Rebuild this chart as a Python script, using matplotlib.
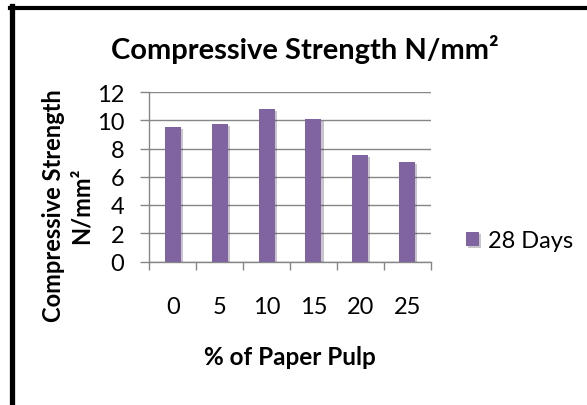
import matplotlib
matplotlib.use("Agg")
import matplotlib.pyplot as plt
import matplotlib.patheffects as pe
from matplotlib.lines import Line2D
import numpy as np

# data
paper_pulp = ["0", "5", "10", "15", "20", "25"]
strength_28 = [9.55, 9.75, 10.8, 10.1, 7.55, 7.05]
series_name = "28 Days"
y_ticks = [0, 2, 4, 6, 8, 10, 12]

plt.rcParams['font.family'] = ['Lato', 'DejaVu Sans']

W, H = 587, 406
fig = plt.figure(figsize=(W / 100, H / 100), dpi=100)
ax = fig.add_axes([149.3 / W, 1 - 262.5 / H, 281.4 / W, 169.5 / H])

grey = '#868686'
x = np.arange(len(paper_pulp)) + 0.5
ax.bar(x, strength_28, width=0.34, color='#8064A2', label=series_name, zorder=3,
       path_effects=[pe.SimplePatchShadow(offset=(1.5, -1.5), alpha=0.25), pe.Normal()])

ax.set_xlim(0, len(paper_pulp))
ax.set_ylim(0, 12)
ax.set_yticks(y_ticks)
ax.set_xticks(x)
ax.set_xticklabels(paper_pulp)
ax.set_xticks(np.arange(len(paper_pulp) + 1), minor=True)
ax.tick_params(axis='x', which='major', length=0, pad=25, labelsize=17)
ax.tick_params(axis='x', which='minor', length=5.4, width=1, color=grey, direction='out')
ax.tick_params(axis='y', length=6.2, width=1, color=grey, pad=12, labelsize=17)
ax.yaxis.grid(True, color=grey, linewidth=1)
ax.set_axisbelow(True)
for s in ['top', 'right']:
    ax.spines[s].set_visible(False)
for s in ['left', 'bottom']:
    ax.spines[s].set_color(grey)
    ax.spines[s].set_linewidth(1)

# legend on the right
fig.legend(loc='center left', bbox_to_anchor=(466 / W, 1 - 242 / H), frameon=False,
           fontsize=17, handlelength=0.55, handleheight=0.55, handletextpad=0.4,
           borderpad=0, borderaxespad=0)

# titles
fig.text(305 / W, 1 - 49 / H, "Compressive Strength N/mm²", ha='center', va='center',
         fontsize=21, weight='bold')
fig.text(67 / W, 1 - 206 / H, "Compressive Strength\nN/mm²", rotation=90, ha='center',
         va='center', multialignment='center', fontsize=17, weight='bold', linespacing=1.25)
fig.text(290 / W, 1 - 358 / H, "% of Paper Pulp", ha='center', va='center',
         fontsize=17.5, weight='bold')

# black frame (left + top, cropped at right and bottom)
fig.add_artist(Line2D([12 / W, 12 / W], [0, 1 - 7 / H], transform=fig.transFigure,
                      color='black', lw=3.8))
fig.add_artist(Line2D([9.5 / W, 1], [1 - 8.7 / H, 1 - 8.7 / H], transform=fig.transFigure,
                      color='black', lw=3.0))

fig.savefig('out.png', dpi=100)
